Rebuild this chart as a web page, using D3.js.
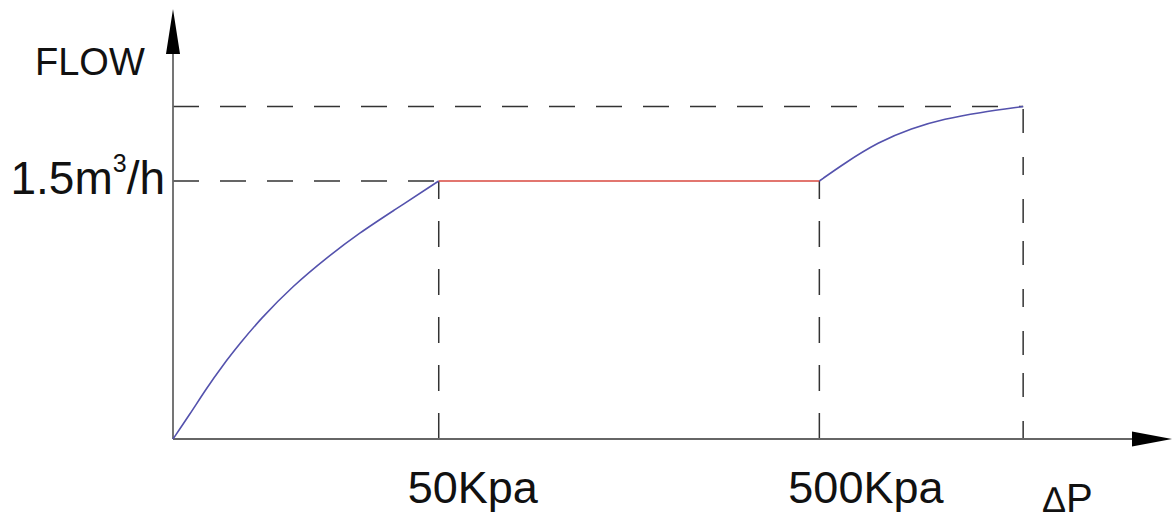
<!DOCTYPE html>
<html>
<head>
<meta charset="utf-8">
<script src="https://cdn.jsdelivr.net/npm/d3@7"></script>
<style>
  body { margin: 0; background: #fff; }
  text { font-family: "Liberation Sans", Arial, sans-serif; fill: #111; }
</style>
</head>
<body>
<script>
// Pressure marks on the x axis (arbitrary units along the axis)
const tickValues = [266, 647];
const tickLabels = ["50Kpa", "500Kpa"];
const maxPressure = 851;      // end of the curve
const flowLabel = "1.5";      // y mark for the plateau
const flowPlateau = 1.5;
const flowMax = 1.933;

// Curve pieces
const rampX = [0, 17, 33, 50, 67, 87, 120, 154, 187, 220, 266];
const rampY = [0, 0.145, 0.29, 0.43, 0.555, 0.695, 0.89, 1.055, 1.2, 1.325, 1.5];
const plateauX = [266, 647];
const plateauY = [1.5, 1.5];
const riseX = [647, 672, 706, 739, 773, 806, 851];
const riseY = [1.5, 1.603, 1.726, 1.807, 1.862, 1.897, 1.933];

// Dimensions
const width = 1173;
const height = 521;

const x = d3.scaleLinear().domain([0, 1000]).range([173, 1172]);
const y = d3.scaleLinear().domain([0, 2.5]).range([439, 9]);

const svg = d3.select("body")
    .append("svg")
    .attr("width", width)
    .attr("height", height)
    .attr("viewBox", [0, 0, width, height]);

// Dashed guide lines
const guides = svg.append("g")
    .attr("stroke", "#333")
    .attr("stroke-width", 1.5)
    .attr("fill", "none");

// horizontal guides start at the y axis
[flowPlateau, flowMax].forEach((v, i) => {
    const xEnd = i === 0 ? tickValues[0] : maxPressure;
    guides.append("line")
        .attr("x1", x(0)).attr("x2", x(xEnd))
        .attr("y1", y(v)).attr("y2", y(v))
        .attr("stroke-dasharray", "26,21");
});

// vertical guides start at the x axis
[[tickValues[0], flowPlateau], [tickValues[1], flowPlateau], [maxPressure, flowMax]].forEach(d => {
    guides.append("line")
        .attr("x1", x(d[0])).attr("x2", x(d[0]))
        .attr("y1", y(0)).attr("y2", y(d[1]))
        .attr("stroke-dasharray", d[0] === maxPressure ? "18,24,24" : "26,22");
});

// Axes
const axes = svg.append("g")
    .attr("stroke", "#666")
    .attr("stroke-width", 1.8);

axes.append("line")
    .attr("x1", x(0)).attr("x2", x(960))
    .attr("y1", y(0)).attr("y2", y(0));

axes.append("line")
    .attr("x1", x(0)).attr("x2", x(0))
    .attr("y1", y(0)).attr("y2", y(2.35));

// Arrow heads
svg.append("path")
    .attr("d", `M${x(1000)},${y(0)} L${x(1000) - 40},${y(0) - 7.5} L${x(1000) - 40},${y(0) + 7.5} Z`)
    .attr("fill", "#000");

svg.append("path")
    .attr("d", `M${x(0)},${y(2.5)} L${x(0) - 7},${y(2.5) + 45} L${x(0) + 7},${y(2.5) + 45} Z`)
    .attr("fill", "#000");

// Curves
const line = d3.line()
    .x(d => x(d[0]))
    .y(d => y(d[1]))
    .curve(d3.curveBasis);

svg.append("path")
    .datum(d3.zip(rampX, rampY))
    .attr("d", line)
    .attr("fill", "none")
    .attr("stroke", "#5452ad")
    .attr("stroke-width", 1.6);

svg.append("path")
    .datum(d3.zip(plateauX, plateauY))
    .attr("d", line)
    .attr("fill", "none")
    .attr("stroke", "#d9483f")
    .attr("stroke-width", 1.6);

svg.append("path")
    .datum(d3.zip(riseX, riseY))
    .attr("d", line)
    .attr("fill", "none")
    .attr("stroke", "#5452ad")
    .attr("stroke-width", 1.6);

// Labels
svg.append("text")
    .attr("x", 35).attr("y", 75)
    .attr("font-size", 38)
    .text("FLOW");

const yLab = svg.append("text")
    .attr("x", x(0) - 8).attr("y", y(flowPlateau) + 13)
    .attr("text-anchor", "end")
    .attr("font-size", 46);
yLab.append("tspan").text(flowLabel + "m");
yLab.append("tspan").attr("font-size", 25).attr("dy", -22).text("3");
yLab.append("tspan").attr("dy", 22).text("/h");

svg.selectAll(".xlab")
    .data(tickValues)
    .join("text")
    .attr("class", "xlab")
    .attr("x", d => x(d) - 31)
    .attr("y", 503)
    .attr("font-size", 45)
    .text((d, i) => tickLabels[i]);

const dp = svg.append("text")
    .attr("x", 1043).attr("y", 512);
dp.append("tspan").attr("font-size", 36).text("\u2206");
dp.append("tspan").attr("font-size", 40).attr("dx", 1).text("P");
</script>
</body>
</html>
